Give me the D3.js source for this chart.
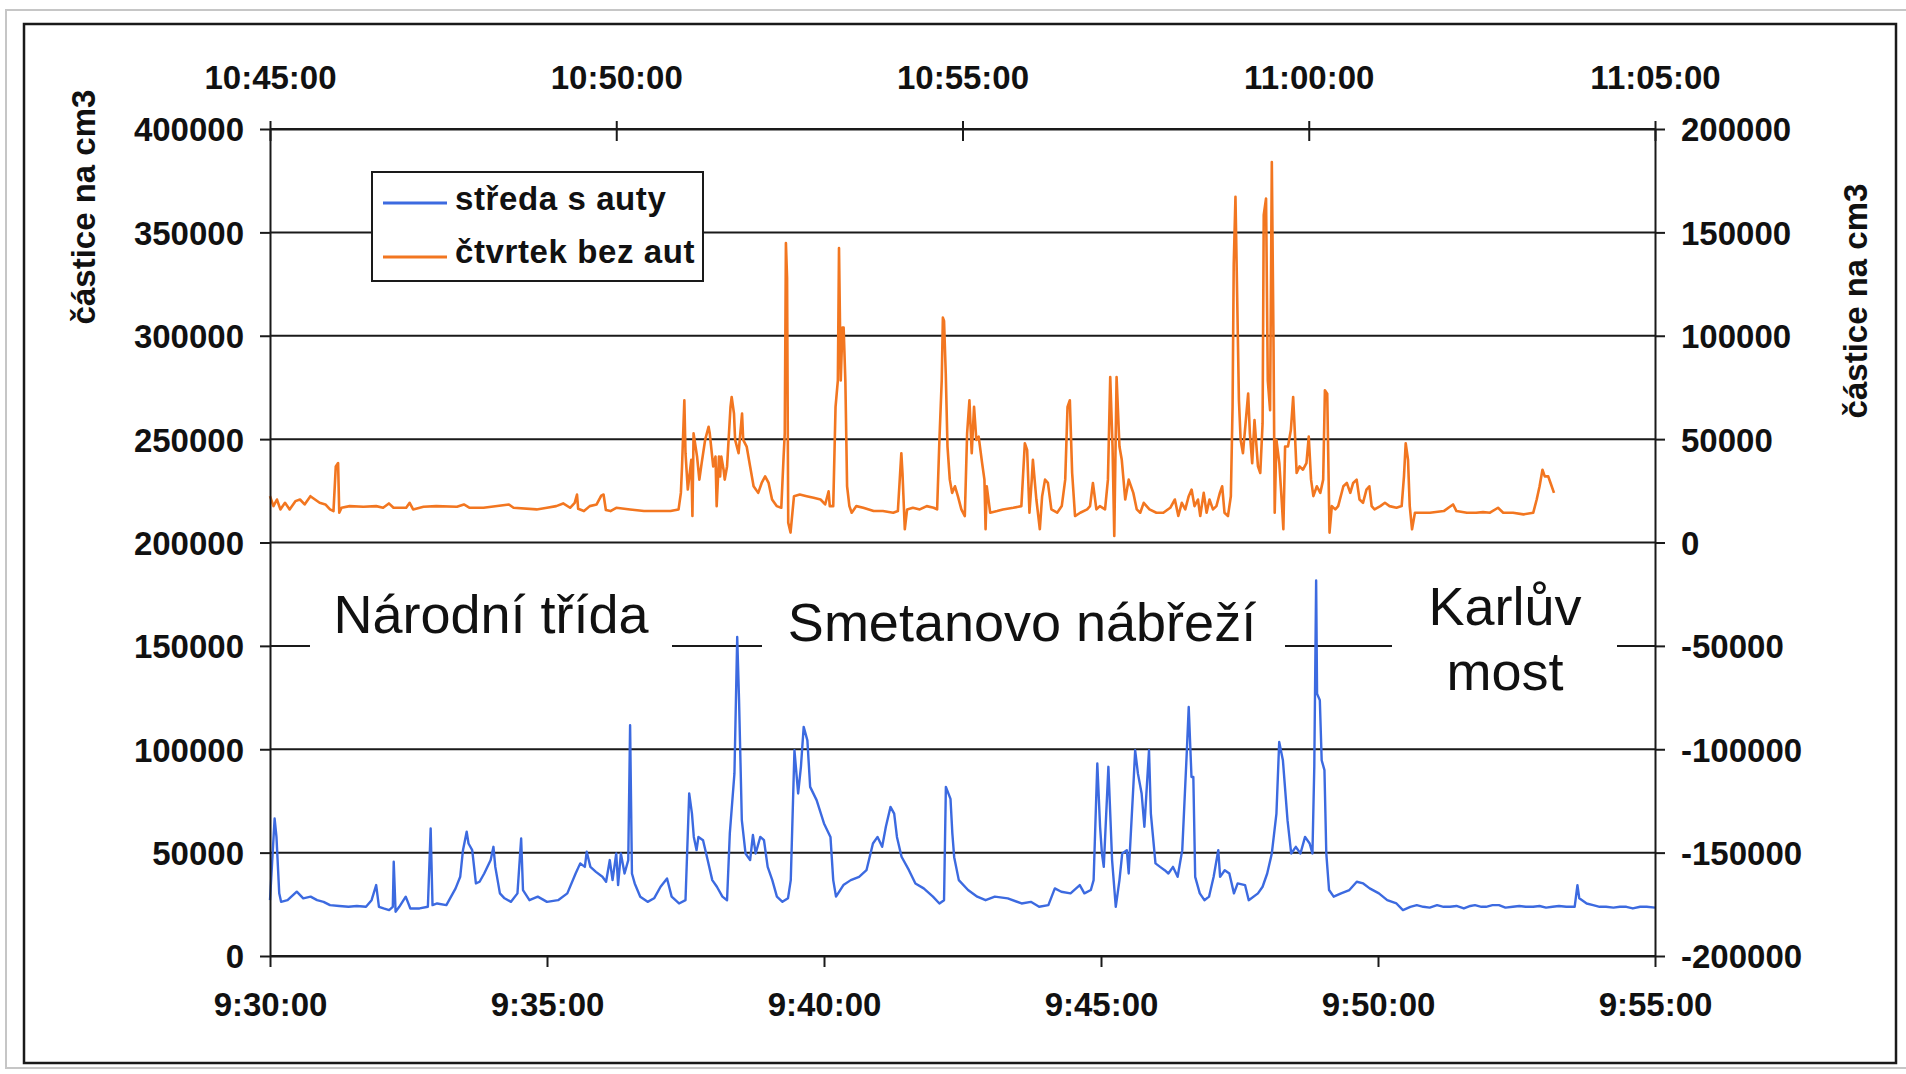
<!DOCTYPE html>
<html>
<head>
<meta charset="utf-8">
<script src="https://cdn.jsdelivr.net/npm/d3@7"></script>
<style>
  html, body { margin: 0; padding: 0; background: #fff; }
  svg { display: block; }
</style>
</head>
<body>
<svg id="chart" width="1906" height="1074"></svg>
<script>
// seconds after 9:30:00, particles per cm3 (left / bottom axes)
const streda = [
  [0,27000],[5,66500],[7,57600],[10,30300],[12,26200],[19,27000],[29,31100],[36,27900],[44,28700],[51,27000],
  [58,26200],[65,24600],[75,24200],[85,23800],[94,24200],[104,23800],[110,27000],[115,34300],[118,23800],[123,23000],
  [129,22200],[133,23800],[134,45600],[136,21400],[140,23800],[147,28700],[152,23000],[162,23000],[171,23800],[174,61700],
  [176,24600],[181,25400],[191,24600],[201,32700],[206,38300],[209,51200],[213,60100],[215,54400],[219,51200],[223,35100],
  [227,35900],[232,39900],[239,46400],[242,52800],[244,43100],[249,30300],[254,27900],[261,26200],[268,30300],[272,56800],
  [274,31900],[281,27000],[290,28700],[300,26200],[312,27000],[322,30300],[331,39900],[336,44800],[341,43100],[343,50400],
  [347,43100],[353,40700],[360,38300],[364,35900],[368,46400],[371,36700],[375,49600],[377,34300],[380,49600],[384,39900],
  [388,46400],[390,111600],[392,39900],[395,35100],[401,28700],[409,26200],[416,27900],[423,33500],[430,37500],[435,28700],
  [443,25400],[450,27000],[454,78600],[457,68900],[459,57600],[462,51200],[464,57600],[469,56000],[474,46400],[479,36700],
  [484,33500],[490,28700],[495,27000],[498,59300],[503,88300],[506,154300],[508,123700],[511,65700],[515,49600],[520,46400],
  [523,58500],[526,49600],[531,57600],[535,56000],[539,43100],[544,36700],[549,28700],[555,26200],[561,27900],[564,36700],
  [568,99500],[572,78600],[575,91500],[578,110800],[582,104300],[585,81800],[592,75400],[600,64100],[607,57600],[610,36700],
  [613,28700],[621,34300],[629,36700],[638,38300],[646,41500],[653,54400],[658,57600],[663,52800],[667,62500],[672,72100],
  [676,68900],[679,57600],[684,48000],[692,41500],[699,35100],[708,32700],[718,28700],[725,25400],[730,27000],[732,81800],
  [737,76000],[739,59300],[741,47800],[746,36700],[756,31900],[766,28700],[775,27000],[785,28700],[799,27900],[814,25400],
  [824,26200],[833,23800],[843,24600],[850,32700],[857,31100],[867,30300],[877,34300],[882,30300],[889,31900],[892,36700],
  [896,93100],[899,62500],[901,49600],[903,43100],[908,91500],[912,46400],[916,23800],[920,36700],[923,49600],[928,51200],
  [930,39900],[935,81800],[937,99500],[940,88200],[944,78600],[947,62500],[952,99500],[954,68900],[959,44800],[964,43100],
  [969,41500],[973,39900],[978,43100],[983,38300],[988,51200],[993,99500],[995,120400],[998,86600],[1000,86600],[1002,38300],
  [1007,30300],[1012,27000],[1017,28700],[1022,38300],[1027,51200],[1029,38300],[1034,41500],[1039,39900],[1044,30300],[1048,35100],
  [1056,34300],[1060,27000],[1070,30300],[1075,33500],[1080,39900],[1085,49600],[1090,68900],[1093,103500],[1097,94700],[1102,65700],
  [1106,49600],[1111,52800],[1116,49600],[1121,57600],[1126,54400],[1129,49600],[1131,91500],[1133,181600],[1134,126900],[1137,123700],
  [1139,94700],[1142,89900],[1144,49600],[1147,31900],[1152,28700],[1160,30300],[1169,31900],[1177,35900],[1184,35100],[1191,32700],
  [1201,30300],[1210,27000],[1220,25400],[1227,22200],[1235,23800],[1242,24600],[1249,23800],[1256,23400],[1264,24600],[1271,23800],
  [1278,23800],[1285,24200],[1293,23000],[1300,24200],[1305,24600],[1312,23800],[1317,23800],[1324,24600],[1331,24600],[1338,23400],
  [1346,23800],[1353,24200],[1360,23800],[1368,23800],[1375,24200],[1382,23400],[1389,23800],[1396,24200],[1404,23800],[1413,23800],
  [1416,34300],[1418,27900],[1426,25400],[1433,24600],[1440,23800],[1447,23800],[1455,23400],[1462,23800],[1469,23800],[1476,23000],
  [1484,23800],[1491,23800],[1500,23400]
];

// seconds after 10:45:00, particles per cm3 (right / top axes)
const ctvrtek = [
  [0,22400],[3,17600],[6,20800],[9,16000],[13,19200],[17,16000],[22,20000],[26,20800],[30,18400],[35,22400],
  [39,20800],[43,19200],[48,18400],[52,16000],[55,15200],[57,36800],[59,38400],[60,14400],[62,16800],[69,17600],
  [81,17300],[92,17600],[98,16800],[103,18900],[107,16800],[118,16800],[121,19200],[124,16000],[133,17300],[144,17600],
  [162,17300],[168,18400],[173,16800],[185,16800],[207,18400],[211,16800],[231,16000],[240,16800],[248,17600],[254,18900],
  [260,16800],[264,19200],[266,23200],[267,16300],[272,15200],[277,17600],[283,18400],[287,22700],[289,23200],[291,15700],
  [295,15200],[300,16800],[312,16000],[324,15200],[335,15200],[347,15200],[354,16000],[356,24000],[357,36800],[359,68800],
  [360,43200],[362,25600],[365,40000],[366,12800],[367,52800],[370,41600],[372,30400],[374,38400],[377,49600],[380,56000],
  [381,52800],[384,36800],[386,41600],[387,17600],[389,41600],[390,32000],[391,41600],[393,35200],[394,30400],[396,36800],
  [397,46400],[399,65600],[400,70400],[402,62400],[403,49600],[406,43200],[409,62400],[410,49600],[413,46400],[416,36800],
  [419,27200],[423,24000],[426,28800],[429,32000],[432,28800],[435,20800],[439,17600],[443,16800],[445,41600],[446,52800],
  [447,144800],[448,128000],[449,9600],[451,4800],[454,22400],[459,23200],[465,22400],[471,21600],[477,20800],[481,18400],
  [484,24800],[485,17600],[488,17600],[490,65600],[492,78400],[493,142400],[494.5,78400],[496,104000],[497,104000],[498.5,78400],
  [500,27200],[502,17600],[504,14400],[508,17600],[514,16800],[523,15200],[531,15200],[540,14400],[544,15200],[547,43200],
  [548,33600],[550,6400],[552,16000],[557,16800],[563,16000],[569,17600],[575,16800],[578,16000],[580,49600],[582,78400],
  [583,108800],[584,107200],[585.5,81600],[587,46400],[589,30400],[591,24000],[593.5,27200],[596,22400],[599,16000],[602,12800],
  [604,52800],[606,68800],[608,43200],[610,65600],[612,49600],[614,51200],[617,38400],[619,30400],[620,6400],[621,27200],
  [624,14400],[630,15200],[635,16000],[644,16800],[651,17600],[654,48000],[656,44800],[658,14400],[660,30400],[661,40000],
  [664,20800],[667,6400],[669,22400],[671.5,30400],[674,28800],[677,16000],[682,14400],[686,17600],[689,30400],[691,65600],
  [693,68800],[695,33600],[697.5,12800],[702,14400],[708,16000],[710.5,17600],[713,28800],[716,16000],[719,17600],[723.5,16000],
  [726,30400],[728,80000],[730,46400],[731.5,3200],[733.5,80000],[736,46400],[738,40000],[741,20800],[744,30400],[745,28800],
  [748,24000],[751,16000],[754,14400],[757,19200],[762,16000],[768,14400],[774,14400],[780,16800],[784,20800],[787,12800],
  [790,19200],[793,16000],[796,22400],[798.5,25600],[801,17600],[804,20800],[806,12800],[809,24000],[811.5,14400],[814,20800],
  [817,16000],[820,17600],[823,24000],[825,27200],[827,14400],[830,12800],[832.5,22400],[834,65600],[835,134400],[836.5,167200],
  [838,118400],[839.5,68800],[841,49600],[843,43200],[845.5,59200],[847.5,72000],[849,52800],[851,38400],[853,59200],[856,36800],
  [858,33600],[860,57600],[861,158400],[863,166400],[864.5,78400],[866.5,64000],[868,184000],[869.5,94400],[870.5,14400],[872,49600],
  [874.5,38400],[876.5,20800],[878,6400],[879.5,46400],[882,46400],[884.5,54400],[886.5,70400],[888,52800],[889.5,33600],[892,36800],
  [895,35200],[898,38400],[900,51200],[902,30400],[904,22400],[907,27200],[910,24000],[912.5,30400],[914,73600],[916,72000],
  [918,4800],[920,17600],[923,16000],[925.5,17600],[930,27200],[933,28800],[936,24000],[938.5,28800],[941.5,30400],[944,20800],
  [947,19200],[950,25600],[952.5,27200],[954.5,17600],[957,16000],[962,17600],[966,19200],[970,17600],[976,16800],[980.5,17600],
  [982.5,32000],[984,48000],[986,40000],[987.5,17600],[989.5,6400],[992,14400],[996,14400],[1005,14400],[1017,15200],[1025,18400],
  [1028,15200],[1037,14400],[1045,14400],[1051,14700],[1057,14400],[1064,16800],[1068.5,14400],[1077,14400],[1086,13600],[1094.5,14400],
  [1097.5,20800],[1100,27200],[1102.5,35200],[1104.5,32000],[1107.5,32000],[1109.5,28800],[1112.5,24000]
];

const seriesNames = ["středa s auty", "čtvrtek bez aut"];
const leftTicks = [0, 50000, 100000, 150000, 200000, 250000, 300000, 350000, 400000];
const rightTicks = [-200000, -150000, -100000, -50000, 0, 50000, 100000, 150000, 200000];
const bottomTicks = ["9:30:00", "9:35:00", "9:40:00", "9:45:00", "9:50:00", "9:55:00"];
const topTicks = ["10:45:00", "10:50:00", "10:55:00", "11:00:00", "11:05:00"];
const places = [["Národní třída"], ["Smetanovo nábřeží"], ["Karlův", "most"]];
const axisTitle = "částice na cm3";

const blue = "#3c6ae0", orange = "#f27620", ink = "#1a1a1a";
const font = "'Liberation Sans', Arial, sans-serif";

const toDate = s => { const p = s.split(":").map(Number); return new Date(2000, 0, 1, p[0], p[1], p[2]); };
const fmt = d3.timeFormat("%-H:%M:%S");

const svg = d3.select("#chart");
const L = 270, R = 1655, T = 129, B = 956;

// chart frames
svg.append("rect").attr("x", 6).attr("y", 10).attr("width", 1920).attr("height", 1058)
    .attr("fill", "none").attr("stroke", "#c6c6c6").attr("stroke-width", 2);
svg.append("rect").attr("x", 24).attr("y", 24).attr("width", 1872).attr("height", 1039)
    .attr("fill", "none").attr("stroke", ink).attr("stroke-width", 2.5);

let xBottom = d3.scaleTime().domain([toDate(bottomTicks[0]), toDate(bottomTicks[bottomTicks.length - 1])]).range([L, R]);
let xTop = d3.scaleTime().domain([toDate(topTicks[0]), toDate(topTicks[topTicks.length - 1])]).range([L, R]);
let yLeft = d3.scaleLinear().domain([0, 400000]).range([B, T]);
let yRight = d3.scaleLinear().domain([-200000, 200000]).range([B, T]);

// gridlines
svg.append("g").selectAll("line").data(leftTicks).enter().append("line")
    .attr("x1", L).attr("x2", R)
    .attr("y1", d => yLeft(d)).attr("y2", d => yLeft(d))
    .attr("stroke", ink).attr("stroke-width", 2);

// series
let t0b = toDate(bottomTicks[0]).getTime();
let t0t = toDate(topTicks[0]).getTime();

let lineBottom = d3.line()
    .x(d => xBottom(new Date(t0b + d[0] * 1000)))
    .y(d => yLeft(d[1]));
let lineTop = d3.line()
    .x(d => xTop(new Date(t0t + d[0] * 1000)))
    .y(d => yRight(d[1]));

svg.append("path").datum(streda).attr("d", lineBottom)
    .attr("fill", "none").attr("stroke", blue).attr("stroke-width", 2.4).attr("stroke-linejoin", "round");
svg.append("path").datum(ctvrtek).attr("d", lineTop)
    .attr("fill", "none").attr("stroke", orange).attr("stroke-width", 2.6).attr("stroke-linejoin", "round");

// axes
function styleAxis(g) {
    g.attr("font-family", font).attr("font-size", 33).attr("font-weight", "bold");
    g.selectAll("path, line").attr("stroke", ink).attr("stroke-width", 2);
    g.selectAll("text").attr("fill", "#111");
}

svg.append("g").attr("transform", `translate(${L},0)`)
    .call(d3.axisLeft(yLeft).tickValues(leftTicks).tickSize(10).tickSizeOuter(0).tickPadding(16).tickFormat(d => String(d)))
    .call(styleAxis)
    .selectAll("text").attr("dy", "0.36em");

svg.append("g").attr("transform", `translate(${R},0)`)
    .call(d3.axisRight(yRight).tickValues(rightTicks).tickSize(10).tickSizeOuter(0).tickPadding(16).tickFormat(d => String(d)))
    .call(styleAxis)
    .selectAll("text").attr("dy", "0.36em");

let gb = svg.append("g").attr("transform", `translate(0,${B})`)
    .call(d3.axisBottom(xBottom).tickValues(bottomTicks.map(toDate)).tickSize(11).tickSizeOuter(0).tickFormat(fmt))
    .call(styleAxis);
gb.selectAll("text").attr("y", 60).attr("dy", null);

let gt = svg.append("g").attr("transform", `translate(0,${T})`)
    .call(d3.axisTop(xTop).tickValues(topTicks.map(toDate)).tickSize(8).tickSizeOuter(0).tickFormat(fmt))
    .call(styleAxis);
gt.selectAll(".tick line").attr("y1", 12);
gt.selectAll("text").attr("y", -40).attr("dy", null);

// axis titles
[[95, 207], [1867, 301]].forEach(p => {
    svg.append("text")
        .attr("transform", `translate(${p[0]},${p[1]}) rotate(-90)`)
        .attr("text-anchor", "middle")
        .attr("font-family", font).attr("font-size", 33).attr("font-weight", "bold")
        .attr("fill", "#111")
        .text(axisTitle);
});

// place labels on white boxes
let placeBoxes = [
    {x0: 310, x1: 672, cx: 491, base: 633},
    {x0: 762, x1: 1285, cx: 1022, base: 641},
    {x0: 1392, x1: 1617, cx: 1505, base: 625}
];
places.forEach((lines, i) => {
    let b = placeBoxes[i];
    svg.append("rect").attr("x", b.x0).attr("y", 578).attr("width", b.x1 - b.x0).attr("height", 126).attr("fill", "#fff");
    lines.forEach((s, j) => {
        svg.append("text")
            .attr("x", b.cx).attr("y", b.base + j * 65)
            .attr("text-anchor", "middle")
            .attr("font-family", font).attr("font-size", 54)
            .attr("fill", "#111")
            .text(s);
    });
});

// legend
let lg = svg.append("g");
lg.append("rect").attr("x", 372).attr("y", 172).attr("width", 331).attr("height", 109)
    .attr("fill", "#fff").attr("stroke", ink).attr("stroke-width", 2);
[blue, orange].forEach((c, i) => {
    let y = 203 + i * 54;
    lg.append("line").attr("x1", 383).attr("x2", 447).attr("y1", y).attr("y2", y)
        .attr("stroke", c).attr("stroke-width", 3);
    lg.append("text").attr("x", 455).attr("y", 210 + i * 53)
        .attr("font-family", font).attr("font-size", 33).attr("font-weight", "bold")
        .attr("letter-spacing", 0.6)
        .attr("fill", "#111")
        .text(seriesNames[i]);
});
</script>
</body>
</html>
